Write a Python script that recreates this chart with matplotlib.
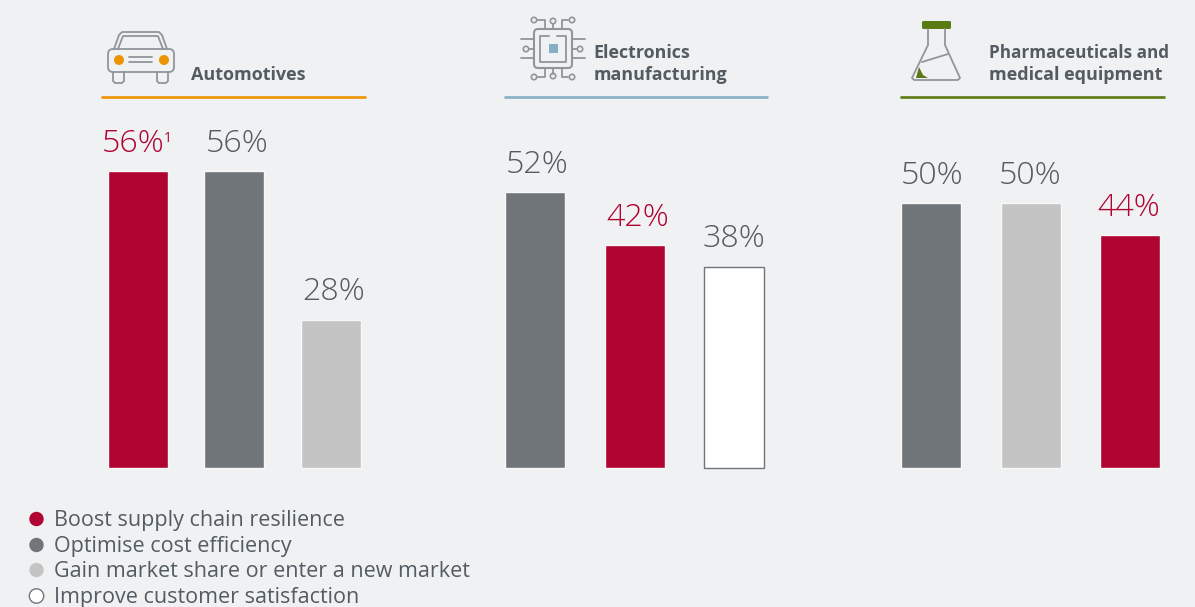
import matplotlib
matplotlib.use("Agg")
import matplotlib.pyplot as plt
from matplotlib.patches import Circle, FancyBboxPatch, Polygon, Rectangle

plt.rcParams['font.family'] = ['Open Sans', 'DejaVu Sans']

W, H = 1195, 607
BG = '#f0f1f3'
TEXT = '#535c63'
RED = '#b00532'
GREY = '#70757a'
LIGHT = '#c4c4c4'
WHITE = '#ffffff'
ORANGE = '#ec9400'
BLUE = '#86aec4'
GREEN = '#5b7a12'
LINE = '#8f969b'

# sector results, one list per panel
auto_values = [56, 56, 28]
auto_colors = [RED, GREY, LIGHT]
elec_values = [52, 42, 38]
elec_colors = [GREY, RED, WHITE]
pharma_values = [50, 50, 44]
pharma_colors = [GREY, LIGHT, RED]

legend_labels = ['Boost supply chain resilience', 'Optimise cost efficiency',
                 'Gain market share or enter a new market', 'Improve customer satisfaction']
legend_colors = [RED, GREY, LIGHT, WHITE]


def bars(fig, left, right, values, colors, shifts):
    """Draws one panel of three bars, left/right are pixel edges of the panel"""
    base, top = 468, 150
    ax = fig.add_axes([left / W, 1 - base / H, (right - left) / W, (base - top) / H])
    ax.set_xlim(0, right - left)
    ax.set_ylim(0, 60)
    ax.axis('off')
    step = (right - left - 60) / 2
    xs = [30 + i * step for i in range(3)]
    for x, v, c, dx in zip(xs, values, colors, shifts):
        edge = '#70757a' if c == WHITE else '#f8f8f8'
        ax.bar(x, v, width=60, color=c, edgecolor=edge, linewidth=1.0, clip_on=False)
        ax.annotate(f'{v}%', (x, v), xytext=(dx * 0.72, 8), textcoords='offset points',
                    ha='center', va='bottom', fontsize=23.2, fontweight='light',
                    annotation_clip=False, color=RED if c == RED else TEXT)
    return ax


def line(ax, xs, ys, color=LINE, lw=1.3):
    ax.plot(xs, ys, color=color, lw=lw, solid_capstyle='round', solid_joinstyle='round')


def round_box(ax, x0, y0, x1, y1, r, **kw):
    ax.add_patch(FancyBboxPatch((x0 + r, y0 + r), x1 - x0 - 2 * r, y1 - y0 - 2 * r,
                                boxstyle=f'round,pad={r},rounding_size={r}', **kw))


def car_icon(ax):
    line(ax, [114, 119, 122, 159, 162, 167], [49, 35, 32, 32, 35, 49])
    line(ax, [118, 123, 158, 163], [49, 36, 36, 49])
    round_box(ax, 108, 49, 174, 72, 5, fc=BG, ec=LINE, lw=1.3)
    for x0 in (113, 157):
        line(ax, [x0, x0, x0 + 2, x0 + 9, x0 + 11, x0 + 11], [72, 81, 83, 83, 81, 72])
    for cx in (119, 164):
        ax.add_patch(Circle((cx, 60), 5, fc=ORANGE, ec='none'))
    line(ax, [129, 152], [57, 57])
    line(ax, [129, 152], [62, 62])


def pin(ax, xs, ys, end=None):
    line(ax, xs, ys)
    if end:
        ax.add_patch(Circle(end, 2.7, fc='none', ec=LINE, lw=1.2))


def chip_icon(ax):
    round_box(ax, 534, 29, 572, 68, 4, fc='none', ec=LINE, lw=1.5)
    line(ax, [549, 540, 540, 566, 566, 557], [36, 36, 62, 62, 36, 36])
    ax.add_patch(Rectangle((549, 44), 9, 9, fc=BLUE, ec='none'))
    pin(ax, [545, 545, 537], [29, 20, 20], (534, 20))
    pin(ax, [553, 553], [29, 24], (553, 21))
    pin(ax, [562, 562, 568], [29, 20, 20], (572, 20))
    pin(ax, [545, 545, 537], [68, 77, 77], (534, 77))
    pin(ax, [553, 553], [68, 74], (553, 76))
    pin(ax, [562, 562, 568], [68, 77, 77], (572, 77))
    line(ax, [521, 534], [39, 39])
    line(ax, [521, 534], [58, 58])
    pin(ax, [529, 534], [49, 49], (526, 49))
    line(ax, [572, 585], [39, 39])
    line(ax, [572, 585], [58, 58])
    pin(ax, [572, 577], [49, 49], (580, 49))


def flask_icon(ax):
    line(ax, [928, 928, 912, 914, 958, 960, 945, 945], [29, 45, 78, 80, 80, 78, 45, 29])
    line(ax, [922, 948], [62, 54])
    ax.add_patch(Polygon([(916, 78), (919, 67), (923, 75), (928, 78)], fc=GREEN, ec='none'))
    round_box(ax, 922, 21, 951, 29, 1.5, fc=GREEN, ec='none')


def main():
    fig = plt.figure(figsize=(W / 100, H / 100), dpi=100, facecolor=BG)

    bars(fig, 107.5, 361.5, auto_values, auto_colors, [-4, 3, 2])
    bars(fig, 505, 764, elec_values, elec_colors, [2, 3, 0])
    bars(fig, 901, 1160, pharma_values, pharma_colors, [1, 0, -1])

    # overlay in pixel units for headers, icons and the legend
    ax = fig.add_axes([0, 0, 1, 1])
    ax.set_xlim(0, W)
    ax.set_ylim(H, 0)
    ax.axis('off')
    ax.patch.set_alpha(0)

    ax.text(171.5, 138, '1', color=RED, fontsize=10, ha='right', va='center')

    for x0, x1, c in [(101, 366, ORANGE), (504, 768, BLUE), (900, 1165, GREEN)]:
        ax.plot([x0, x1], [97, 97], color=c, lw=1.9, solid_capstyle='butt')

    ax.text(191, 75, 'Automotives', color=TEXT, fontsize=13, fontweight='bold', ha='left', va='center')
    ax.text(593.5, 53, 'Electronics', color=TEXT, fontsize=12.9, fontweight='bold', ha='left', va='center')
    ax.text(594, 75, 'manufacturing', color=TEXT, fontsize=12.9, fontweight='bold', ha='left', va='center')
    ax.text(989, 53, 'Pharmaceuticals and', color=TEXT, fontsize=12.3, fontweight='bold', ha='left', va='center')
    ax.text(989, 75, 'medical equipment', color=TEXT, fontsize=13, fontweight='bold', ha='left', va='center')

    car_icon(ax)
    chip_icon(ax)
    flask_icon(ax)

    for y, label, c in zip([519, 545, 570, 596], legend_labels, legend_colors):
        ax.add_patch(Circle((36.5, y), 7.2, fc=c, ec=GREY if c == WHITE else 'none', lw=1.0))
        ax.text(54, y + 1.5, label, color=TEXT, fontsize=15.5, ha='left', va='center')

    fig.savefig('out.png', dpi=100, facecolor=BG)


if __name__ == "__main__":
    main()
